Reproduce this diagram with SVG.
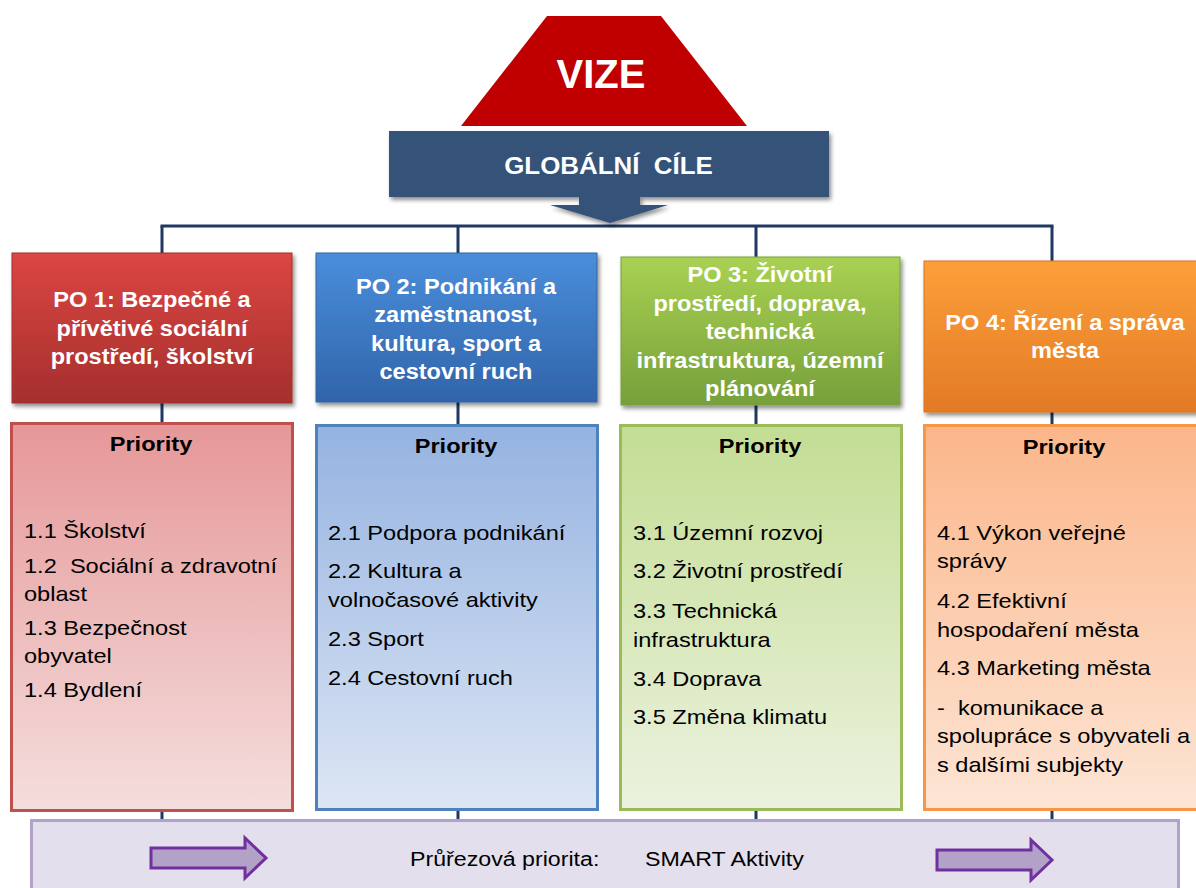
<svg xmlns="http://www.w3.org/2000/svg" width="1196" height="888" viewBox="0 0 1196 888">
<defs>
<style>
.hd{font-family:'Liberation Sans',Arial,sans-serif;font-weight:bold;font-size:22px;fill:#fff;text-anchor:middle}
.pr{font-family:'Liberation Sans',Arial,sans-serif;font-weight:bold;font-size:20px;fill:#000;text-anchor:middle}
.it{font-family:'Liberation Sans',Arial,sans-serif;font-size:20px;fill:#000;white-space:pre}
.conn{stroke:#1f3864;stroke-width:3;fill:none}
.arr{fill:#b3a2c7;stroke:#7030a0;stroke-width:3}
</style>
<filter id="sh" x="-5%" y="-5%" width="115%" height="125%">
<feDropShadow dx="2" dy="3" stdDeviation="2" flood-color="#000" flood-opacity="0.45"/>
</filter>
<linearGradient id="gRed" x1="0" y1="0" x2="0" y2="1"><stop offset="0" stop-color="#dc4643"/><stop offset="1" stop-color="#a52f2d"/></linearGradient>
<linearGradient id="gBlue" x1="0" y1="0" x2="0" y2="1"><stop offset="0" stop-color="#4a8edb"/><stop offset="1" stop-color="#3164aa"/></linearGradient>
<linearGradient id="gGreen" x1="0" y1="0" x2="0" y2="1"><stop offset="0" stop-color="#a9d153"/><stop offset="1" stop-color="#76a03a"/></linearGradient>
<linearGradient id="gOrange" x1="0" y1="0" x2="0" y2="1"><stop offset="0" stop-color="#fd9f3a"/><stop offset="1" stop-color="#e27a25"/></linearGradient>
<linearGradient id="lRed" x1="0" y1="0" x2="0" y2="1"><stop offset="0" stop-color="#e69798"/><stop offset="1" stop-color="#f4dedd"/></linearGradient>
<linearGradient id="lBlue" x1="0" y1="0" x2="0" y2="1"><stop offset="0" stop-color="#95b3e1"/><stop offset="1" stop-color="#dde6f4"/></linearGradient>
<linearGradient id="lGreen" x1="0" y1="0" x2="0" y2="1"><stop offset="0" stop-color="#c3dd93"/><stop offset="1" stop-color="#ecf2df"/></linearGradient>
<linearGradient id="lOrange" x1="0" y1="0" x2="0" y2="1"><stop offset="0" stop-color="#fbb68a"/><stop offset="1" stop-color="#fde5d5"/></linearGradient>
</defs>

<g id="connectors">
<line class="conn" x1="160.5" y1="226" x2="1053.5" y2="226"/>
<line class="conn" x1="162" y1="226" x2="162" y2="822"/>
<line class="conn" x1="458" y1="226" x2="458" y2="822"/>
<line class="conn" x1="756" y1="226" x2="756" y2="822"/>
<line class="conn" x1="1052" y1="226" x2="1052" y2="822"/>
</g>

<g id="vize">
<polygon points="547,16 661,16 747,126 461,126" fill="#c00000"/>
<text x="601" y="88" font-family="'Liberation Sans',Arial,sans-serif" font-weight="bold" font-size="40" fill="#fff" text-anchor="middle">VIZE</text>
</g>

<g id="globalni-cile">
<g filter="url(#sh)">
<rect x="389" y="131" width="440" height="66" fill="#345279"/>
<polygon points="579,196 640,196 640,205 668,205 610,223 550,205 579,205" fill="#345279"/>
</g>
<g transform="translate(608.5 0) scale(1.08 1)">
<text x="0" y="174" font-family="'Liberation Sans',Arial,sans-serif" font-weight="bold" font-size="24" fill="#fff" text-anchor="middle" style="white-space:pre">GLOBÁLNÍ  CÍLE</text>
</g>
</g>

<g id="po1">
<rect x="12" y="253" width="280" height="150" fill="url(#gRed)" stroke="#a0302e" stroke-width="1" filter="url(#sh)"/>
<g transform="translate(152 0) scale(1.07 1)">
<text class="hd" x="0" y="307">PO 1: Bezpečné a</text>
<text class="hd" x="0" y="336">přívětivé sociální</text>
<text class="hd" x="0" y="364.5">prostředí, školství</text>
</g>
</g>

<g id="po2">
<rect x="316" y="253" width="281" height="149" fill="url(#gBlue)" stroke="#3262a6" stroke-width="1" filter="url(#sh)"/>
<g transform="translate(456 0) scale(1.07 1)">
<text class="hd" x="0" y="294">PO 2: Podnikání a</text>
<text class="hd" x="0" y="322.5">zaměstnanost,</text>
<text class="hd" x="0" y="351">kultura, sport a</text>
<text class="hd" x="0" y="379.5">cestovní ruch</text>
</g>
</g>

<g id="po3">
<rect x="621" y="257" width="279" height="148" fill="url(#gGreen)" stroke="#78a03c" stroke-width="1" filter="url(#sh)"/>
<g transform="translate(760 0) scale(1.07 1)">
<text class="hd" x="0" y="282">PO 3: Životní</text>
<text class="hd" x="0" y="311">prostředí, doprava,</text>
<text class="hd" x="0" y="339">technická</text>
<text class="hd" x="0" y="368">infrastruktura, územní</text>
<text class="hd" x="0" y="396">plánování</text>
</g>
</g>

<g id="po4">
<rect x="924" y="261" width="282" height="151" fill="url(#gOrange)" stroke="#d87526" stroke-width="1" filter="url(#sh)"/>
<g transform="translate(1065 0) scale(1.07 1)">
<text class="hd" x="0" y="330">PO 4: Řízení a správa</text>
<text class="hd" x="0" y="358">města</text>
</g>
</g>

<g id="priority1">
<rect x="11.5" y="423.5" width="281" height="387" fill="url(#lRed)" stroke="#c0504d" stroke-width="3"/>
<g transform="translate(151 0) scale(1.18 1)"><text class="pr" x="0" y="451">Priority</text></g>
<g transform="translate(24 0) scale(1.18 1)">
<text class="it" x="0" y="538">1.1 Školství</text>
<text class="it" x="0" y="573">1.2  Sociální a zdravotní</text>
<text class="it" x="0" y="601">oblast</text>
<text class="it" x="0" y="635">1.3 Bezpečnost</text>
<text class="it" x="0" y="663">obyvatel</text>
<text class="it" x="0" y="697">1.4 Bydlení</text>
</g>
</g>

<g id="priority2">
<rect x="316.5" y="425.5" width="281" height="384" fill="url(#lBlue)" stroke="#4f81bd" stroke-width="3"/>
<g transform="translate(456 0) scale(1.18 1)"><text class="pr" x="0" y="453">Priority</text></g>
<g transform="translate(328 0) scale(1.18 1)">
<text class="it" x="0" y="540">2.1 Podpora podnikání</text>
<text class="it" x="0" y="578">2.2 Kultura a</text>
<text class="it" x="0" y="607">volnočasové aktivity</text>
<text class="it" x="0" y="646">2.3 Sport</text>
<text class="it" x="0" y="685">2.4 Cestovní ruch</text>
</g>
</g>

<g id="priority3">
<rect x="620.5" y="425.5" width="281" height="384" fill="url(#lGreen)" stroke="#9bbb59" stroke-width="3"/>
<g transform="translate(760 0) scale(1.18 1)"><text class="pr" x="0" y="453">Priority</text></g>
<g transform="translate(633 0) scale(1.18 1)">
<text class="it" x="0" y="540">3.1 Územní rozvoj</text>
<text class="it" x="0" y="578">3.2 Životní prostředí</text>
<text class="it" x="0" y="618">3.3 Technická</text>
<text class="it" x="0" y="647">infrastruktura</text>
<text class="it" x="0" y="686">3.4 Doprava</text>
<text class="it" x="0" y="724">3.5 Změna klimatu</text>
</g>
</g>

<g id="priority4">
<rect x="924.5" y="425.5" width="284" height="384" fill="url(#lOrange)" stroke="#f79646" stroke-width="3"/>
<g transform="translate(1064 0) scale(1.18 1)"><text class="pr" x="0" y="454">Priority</text></g>
<g transform="translate(937 0) scale(1.18 1)">
<text class="it" x="0" y="540">4.1 Výkon veřejné</text>
<text class="it" x="0" y="568">správy</text>
<text class="it" x="0" y="608">4.2 Efektivní</text>
<text class="it" x="0" y="637">hospodaření města</text>
<text class="it" x="0" y="675">4.3 Marketing města</text>
<text class="it" x="0" y="715">-  komunikace a</text>
<text class="it" x="0" y="743">spolupráce s obyvateli a</text>
<text class="it" x="0" y="772">s dalšími subjekty</text>
</g>
</g>

<g id="pruřezova">
<rect x="31.5" y="820.5" width="1147" height="75" fill="#e4dfec" stroke="#b3a2c7" stroke-width="3"/>
<polygon class="arr" points="151,848 245,848 245,838 266,858 245,878 245,868 151,868"/>
<polygon class="arr" points="937,850 1031,850 1031,840 1052,860 1031,880 1031,870 937,870"/>
<g transform="translate(410 0) scale(1.16 1)">
<text class="it" y="866"><tspan x="0">Průřezová priorita:</tspan><tspan x="202.6">SMART Aktivity</tspan></text>
</g>
</g>
</svg>
